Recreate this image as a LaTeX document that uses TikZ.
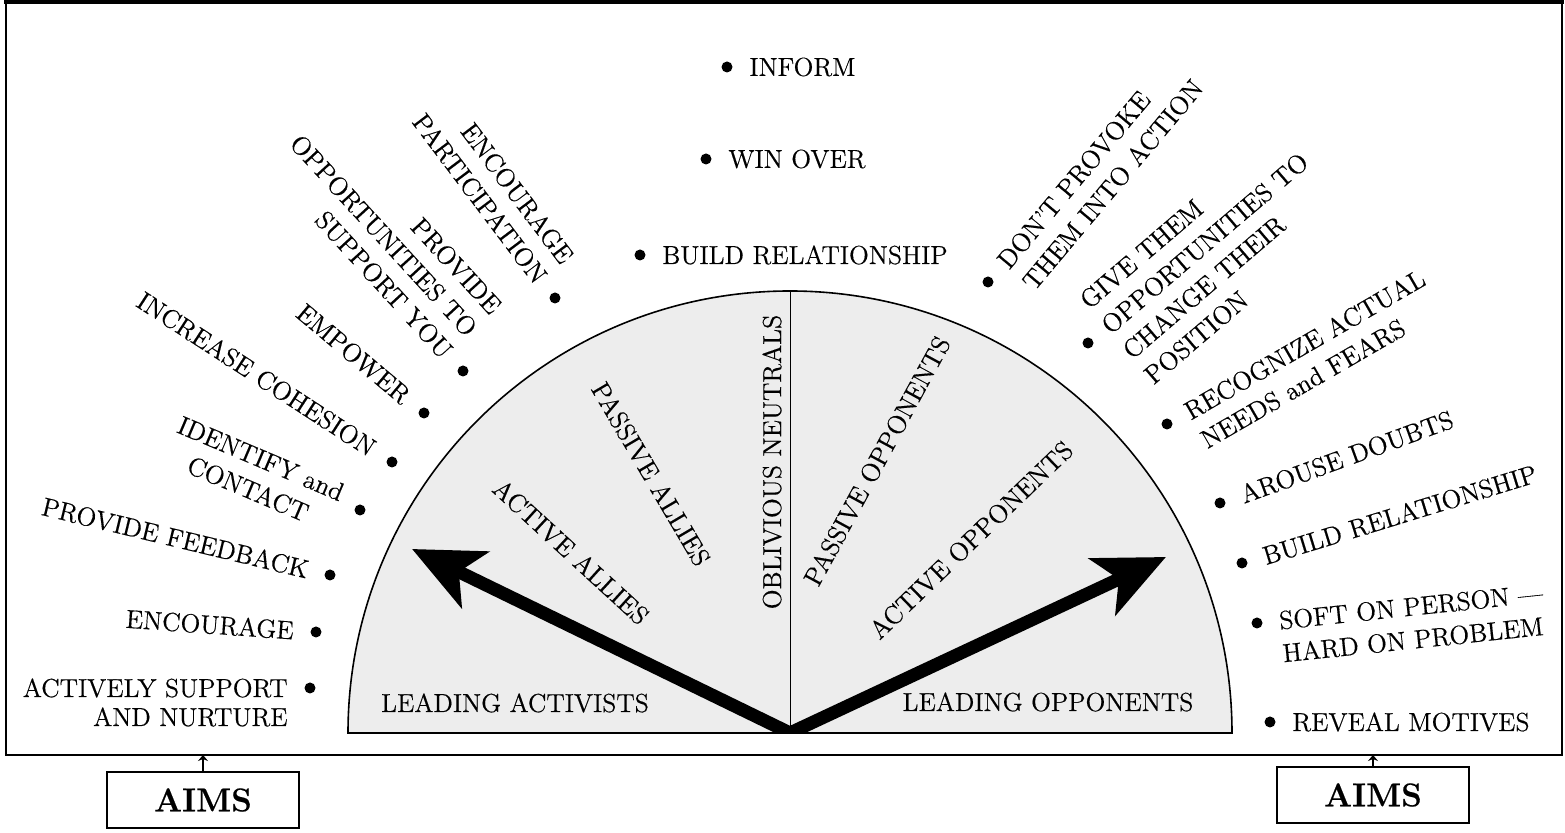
\documentclass[tikz,border=0pt]{standalone}
\usepackage{fontspec}
\setmainfont{Latin Modern Roman}[FakeBold=0.45]
\usetikzlibrary{arrows.meta,calc}

\begin{document}
\begin{tikzpicture}[x=0.5pt,y=0.5pt,
    lbl/.style={inner sep=0pt, font=\fontsize{13}{16.5}\selectfont},
    dot/.style={circle, fill=black, inner sep=0pt, minimum size=5.5pt},
    zone/.style={inner sep=0pt, font=\fontsize{13}{15}\selectfont},
    aims/.style={draw, line width=1.1pt, minimum width=96pt, minimum height=28pt, inner sep=0pt, font=\fontsize{16.5}{18}\selectfont\bfseries},
    bigarrow/.style={line width=6.5pt, -{Stealth[length=35pt,width=31pt,inset=9pt]}},
    smallarrow/.style={line width=1.1pt, -{Stealth[length=3pt,width=5pt]}}]
        \useasboundingbox (0,0) rectangle (1565,833);

        % frame
        \draw [line width=0.6pt] (6,831) -- (6,78) -- (1562,78) -- (1562,831) ;
        \draw [line width=2pt] (4,831) -- (1564,831) ;

        % half disc
        \coordinate (ctr) at (790,100);
        \coordinate (apex) at (790,542);
        \coordinate (tipL) at (412,284);
        \coordinate (tipR) at (1166,276);
        \fill [gray!14] (348,100) arc [start angle=180, end angle=0, radius=442] -- cycle ;
        \begin{scope}
            \clip (348,100) arc [start angle=180, end angle=0, radius=442] -- cycle ;
            \draw [bigarrow] (ctr) -- (tipL) ;
            \draw [bigarrow] (ctr) -- (tipR) ;
        \end{scope}
        \draw [line width=0.8pt] (348,100) arc [start angle=180, end angle=0, radius=442] -- cycle ;
        \draw [line width=0.5pt] (ctr) -- (apex) ;

        \node [zone, rotate=90] (oblivious) at (772,371) {OBLIVIOUS NEUTRALS};
        \node [zone, rotate=-59.5] (passallies) at (651,359) {PASSIVE ALLIES};
        \node [zone, rotate=-42.5] (actallies) at (571,281) {ACTIVE ALLIES};
        \node [zone, rotate=61.5] (passopp) at (877,372) {PASSIVE OPPONENTS};
        \node [zone, rotate=44] (actopp) at (971,293) {ACTIVE OPPONENTS};
        \node [zone] (leadact) at (515,130) {LEADING ACTIVISTS};
        \node [zone] (leadopp) at (1048,131) {LEADING OPPONENTS};

        % aims on the allies side
        \node [dot] (ldot1) at (310,145) {};
        \node [dot] (ldot2) at (316,201) {};
        \node [dot] (ldot3) at (330,258) {};
        \node [dot] (ldot4) at (360,323) {};
        \node [dot] (ldot5) at (392,371) {};
        \node [dot] (ldot6) at (424,420) {};
        \node [dot] (ldot7) at (463,462) {};
        \node [dot] (ldot8) at (555,535) {};
        \node [lbl, font=\fontsize{13}{14.5}\selectfont, anchor=east, align=right] (ltxt1) at ($(ldot1)+(180:22)+(-90:14.5)$) {ACTIVELY SUPPORT\\AND NURTURE};
        \node [lbl, anchor=east, rotate=-4] (ltxt2) at ($(ldot2)+(176:22)$) {ENCOURAGE};
        \node [lbl, anchor=east, rotate=-13.5] (ltxt3) at ($(ldot3)+(166.5:22)$) {PROVIDE FEEDBACK};
        \node [lbl, anchor=east, rotate=-23, align=center] (ltxt4) at ($(ldot4)+(157:22)+(-113:8)$) {IDENTIFY and\\CONTACT};
        \node [lbl, anchor=east, rotate=-33] (ltxt5) at ($(ldot5)+(147:22)$) {INCREASE COHESION};
        \node [lbl, anchor=east, rotate=-40] (ltxt6) at ($(ldot6)+(140:22)$) {EMPOWER};
        \node [lbl, anchor=east, rotate=-47.5, align=right] (ltxt7) at ($(ldot7)+(132.5:22)+(42.5:33)$) {PROVIDE\\OPPORTUNITIES TO\\SUPPORT YOU};
        \node [lbl, anchor=east, rotate=-53, align=right] (ltxt8) at ($(ldot8)+(127:22)+(37:16.5)$) {ENCOURAGE\\PARTICIPATION};

        % aims for the neutrals
        \node [dot] (tdot1) at (727,766) {};
        \node [dot] (tdot2) at (706,674) {};
        \node [dot] (tdot3) at (640,578) {};
        \node [lbl, anchor=west] (ttxt1) at ($(tdot1)+(22,0)$) {INFORM};
        \node [lbl, anchor=west] (ttxt2) at ($(tdot2)+(22,0)$) {WIN OVER};
        \node [lbl, anchor=west] (ttxt3) at ($(tdot3)+(22,0)$) {BUILD RELATIONSHIP};

        % aims on the opponents side
        \node [dot] (rdot1) at (988,551) {};
        \node [dot] (rdot2) at (1088,490) {};
        \node [dot] (rdot3) at (1167,409) {};
        \node [dot] (rdot4) at (1220,330) {};
        \node [dot] (rdot5) at (1242,270) {};
        \node [dot] (rdot6) at (1257,210) {};
        \node [dot] (rdot7) at (1270,111) {};
        \node [lbl, anchor=west, rotate=50, align=left] (rtxt1) at ($(rdot1)+(50:22)+(-40:16.5)$) {DON'T PROVOKE\\THEM INTO ACTION};
        \node [lbl, anchor=west, rotate=40.5, align=left] (rtxt2) at ($(rdot2)+(40.5:22)+(-49.5:16.5)$) {GIVE THEM\\OPPORTUNITIES TO\\CHANGE THEIR\\POSITION};
        \node [lbl, anchor=west, rotate=30, align=left] (rtxt3) at ($(rdot3)+(30:22)+(-60:16.5)$) {RECOGNIZE ACTUAL\\NEEDS and FEARS};
        \node [lbl, anchor=west, rotate=20] (rtxt4) at ($(rdot4)+(20:22)$) {AROUSE DOUBTS};
        \node [lbl, anchor=west, rotate=17] (rtxt5) at ($(rdot5)+(17:22)$) {BUILD RELATIONSHIP};
        \node [lbl, anchor=west, rotate=6, align=left] (rtxt6) at ($(rdot6)+(6:22)+(-84:16.5)$) {SOFT ON PERSON ---\\HARD ON PROBLEM};
        \node [lbl, anchor=west] (rtxt7) at ($(rdot7)+(22,0)$) {REVEAL MOTIVES};

        % boxes under the frame
        \node [aims] (aimsL) at (203,33) {AIMS};
        \node [aims] (aimsR) at (1373,38) {AIMS};
        \coordinate (frameL) at (203,78);
        \coordinate (frameR) at (1373,78);
        \draw [smallarrow] (aimsL) -- (frameL) ;
        \draw [smallarrow] (aimsR) -- (frameR) ;
\end{tikzpicture}
\end{document}
